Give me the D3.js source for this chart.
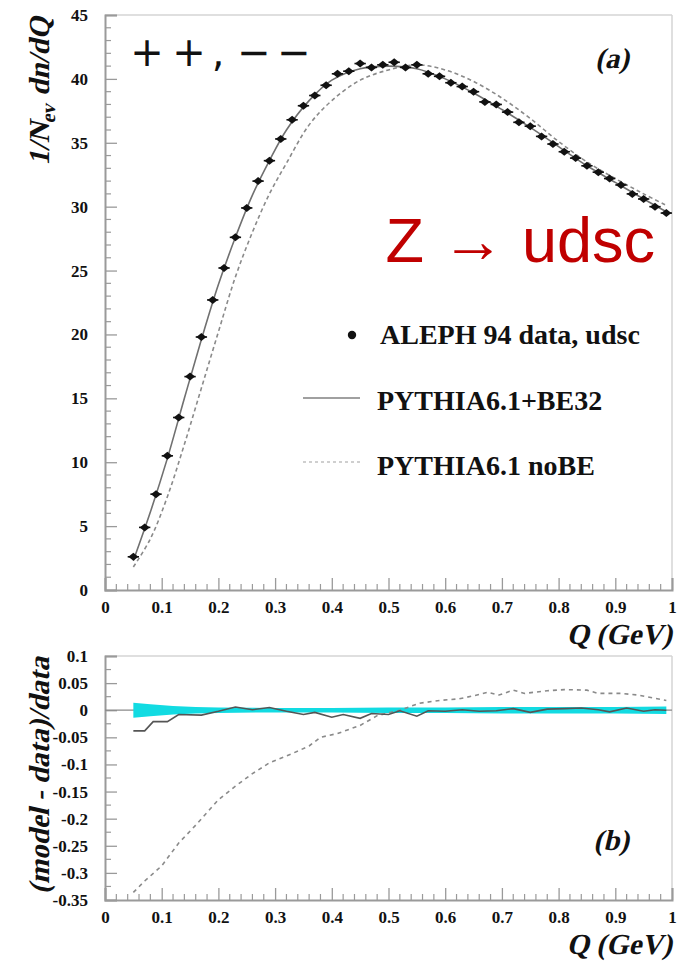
<!DOCTYPE html>
<html>
<head>
<meta charset="utf-8">
<script src="https://cdn.jsdelivr.net/npm/d3@7"></script>
<style>
  html, body { margin: 0; padding: 0; background: #ffffff; }
  svg { display: block; }
  .tick-label { font-family: "Liberation Serif", serif; font-weight: bold; font-size: 17px; fill: #111; }
  .axis-title { font-family: "Liberation Serif", serif; font-weight: bold; font-size: 29px; fill: #111; }
  .legend-text { font-family: "Liberation Serif", serif; font-weight: bold; font-size: 28px; fill: #111; }
</style>
</head>
<body>
<svg id="chart" width="680" height="962"></svg>
<script>
// Like-sign pair Q distribution, ALEPH 94 udsc data vs PYTHIA 6.1 with and without BE32

// Measured points: bin centres (GeV) and 1/N_ev dn/dQ
const dataQ = [0.05, 0.07, 0.09, 0.11, 0.13, 0.15, 0.17, 0.19, 0.21, 0.23, 0.25, 0.27,
               0.29, 0.31, 0.33, 0.35, 0.37, 0.39, 0.41, 0.43, 0.45, 0.47, 0.49, 0.51,
               0.53, 0.55, 0.57, 0.59, 0.61, 0.63, 0.65, 0.67, 0.69, 0.71, 0.73, 0.75,
               0.77, 0.79, 0.81, 0.83, 0.85, 0.87, 0.89, 0.91, 0.93, 0.95, 0.97, 0.99];
const dataVal = [2.6, 4.9, 7.5, 10.5, 13.5, 16.7, 19.8, 22.7, 25.2, 27.6, 29.9, 32.0,
                 33.6, 35.3, 36.8, 37.9, 38.7, 39.5, 40.4, 40.6, 41.2, 40.9, 41.1, 41.3,
                 40.9, 41.1, 40.4, 40.2, 39.7, 39.4, 39.0, 38.2, 38.0, 37.4, 36.6, 36.3,
                 35.5, 34.9, 34.3, 33.8, 33.2, 32.7, 32.2, 31.7, 31.0, 30.6, 30.0, 29.5];
const binHalfWidth = 0.01;

// Model curves sampled along Q
const modelQ = [0.05, 0.08, 0.11, 0.14, 0.17, 0.20, 0.23, 0.26, 0.29, 0.32, 0.36, 0.40,
                0.45, 0.50, 0.55, 0.60, 0.65, 0.70, 0.75, 0.80, 0.85, 0.90, 0.95, 0.99];
const be32Val = [2.3, 6.1, 10.3, 15.0, 19.6, 23.9, 27.6, 30.9, 33.6, 36.0, 38.3, 39.9,
                 40.8, 41.0, 40.8, 40.0, 38.9, 37.6, 36.2, 34.7, 33.2, 31.9, 30.6, 29.6];
const noBEVal = [1.8, 4.0, 7.3, 11.4, 15.8, 20.2, 24.5, 28.0, 31.0, 33.4, 36.4, 38.3,
                 39.9, 40.7, 41.1, 40.7, 39.8, 38.5, 36.9, 35.1, 33.5, 32.2, 31.0, 30.1];

// Relative deviations (model - data)/data
const ratioBE32Q = [0.05, 0.07, 0.085, 0.11, 0.13, 0.17, 0.20, 0.23, 0.26, 0.29, 0.32, 0.35,
                    0.37, 0.40, 0.42, 0.45, 0.47, 0.50, 0.52, 0.55, 0.57, 0.60, 0.63, 0.66,
                    0.69, 0.72, 0.75, 0.78, 0.81, 0.84, 0.87, 0.89, 0.92, 0.95, 0.97, 0.99];
const ratioBE32 = [-0.038, -0.038, -0.021, -0.021, -0.008, -0.009, -0.002, 0.006, 0.001, 0.005, -0.002, -0.008,
                   -0.004, -0.013, -0.008, -0.015, -0.006, -0.008, -0.001, -0.011, -0.001, -0.002, 0.001, -0.002,
                   -0.001, 0.003, -0.004, 0.002, 0.003, 0.004, 0.001, -0.003, 0.004, -0.002, 0.001, 0.0];
const ratioNoBEQ = [0.05, 0.07, 0.10, 0.13, 0.16, 0.20, 0.23, 0.26, 0.29, 0.33, 0.36, 0.38,
                    0.41, 0.45, 0.48, 0.52, 0.555, 0.59, 0.625, 0.66, 0.675, 0.695, 0.72, 0.74,
                    0.78, 0.81, 0.85, 0.87, 0.91, 0.94, 0.99];
const ratioNoBE = [-0.336, -0.315, -0.287, -0.245, -0.212, -0.165, -0.140, -0.117, -0.097, -0.080, -0.066, -0.050,
                   -0.043, -0.028, -0.010, 0.000, 0.013, 0.018, 0.021, 0.029, 0.033, 0.028, 0.037, 0.031,
                   0.036, 0.038, 0.037, 0.031, 0.031, 0.028, 0.018];

// Statistical error band of the data around zero
const bandQ = [0.05, 0.08, 0.12, 0.16, 0.20, 0.30, 0.40, 0.50, 0.60, 0.70, 0.80, 0.90, 0.99];
const bandErr = [0.014, 0.011, 0.008, 0.006, 0.005, 0.004, 0.004, 0.005, 0.005, 0.006, 0.006, 0.006, 0.007];

// Axis ticks
const xTicks = [0, 0.1, 0.2, 0.3, 0.4, 0.5, 0.6, 0.7, 0.8, 0.9, 1];
const topYTicks = [0, 5, 10, 15, 20, 25, 30, 35, 40, 45];
const botYTicks = [0.1, 0.05, 0, -0.05, -0.1, -0.15, -0.2, -0.25, -0.3, -0.35];

const legendItems = ["ALEPH 94 data, udsc", "PYTHIA6.1+BE32", "PYTHIA6.1 noBE"];

// ---------------------------------------------------------------------------
const svg = d3.select("#chart");
const X0 = 105, X1 = 672;
const topPanel = { y0: 15, y1: 590 };
const botPanel = { y0: 656, y1: 900 };
const SLANT = "skewX(-13)";   // italic lean for the serif titles

const x = d3.scaleLinear().domain([0, 1]).range([X0, X1]);
const yTop = d3.scaleLinear().domain([0, 45]).range([topPanel.y1, topPanel.y0]);
const yBot = d3.scaleLinear().domain([-0.35, 0.1]).range([botPanel.y1, botPanel.y0]);

const axisColor = "#9a9a9a";
const frameColor = "#d4d4d4";

function fmtX(d) { return d === 0 ? "0" : d === 1 ? "1" : d.toFixed(1); }

function drawFrame(y, yMajor, yMinorStep, fmtY) {
  const [ylo, yhi] = y.domain();
  const g = svg.append("g");
  // light frame top/right
  g.append("line").attr("x1", X0).attr("x2", X1).attr("y1", y(yhi)).attr("y2", y(yhi))
    .attr("stroke", frameColor).attr("stroke-width", 1.5);
  g.append("line").attr("x1", X1).attr("x2", X1).attr("y1", y(yhi)).attr("y2", y(ylo))
    .attr("stroke", frameColor).attr("stroke-width", 1.5);

  // x axis with inward ticks
  const xMinor = d3.range(0, 1.0001, 0.02).filter(v => Math.abs(v * 10 - Math.round(v * 10)) > 1e-6);
  const xAx = g.append("g").attr("transform", `translate(0,${y(ylo)})`)
    .call(d3.axisBottom(x).tickValues(xTicks).tickSize(-12).tickFormat(fmtX).tickPadding(14));
  xAx.select(".domain").attr("stroke", axisColor).attr("stroke-width", 2);
  xAx.selectAll(".tick line").attr("stroke", axisColor).attr("stroke-width", 1.3);
  xAx.selectAll(".tick text").attr("class", "tick-label").attr("dy", "0.5em");
  xAx.selectAll(".minor").data(xMinor).join("line").attr("class", "minor")
    .attr("x1", d => x(d)).attr("x2", d => x(d)).attr("y1", 0).attr("y2", -6)
    .attr("stroke", axisColor).attr("stroke-width", 1.2);

  // y axis with inward ticks
  const yMinor = d3.range(ylo, yhi + 1e-9, yMinorStep)
    .filter(v => !yMajor.some(m => Math.abs(m - v) < 1e-9));
  const yAx = g.append("g").attr("transform", `translate(${X0},0)`)
    .call(d3.axisLeft(y).tickValues(yMajor).tickSize(-12).tickFormat(fmtY).tickPadding(17));
  yAx.select(".domain").attr("stroke", axisColor).attr("stroke-width", 2);
  yAx.selectAll(".tick line").attr("stroke", axisColor).attr("stroke-width", 1.3);
  yAx.selectAll(".tick text").attr("class", "tick-label");
  yAx.selectAll(".minor").data(yMinor).join("line").attr("class", "minor")
    .attr("x1", 0).attr("x2", 6).attr("y1", d => y(d)).attr("y2", d => y(d))
    .attr("stroke", axisColor).attr("stroke-width", 1.2);
}

// slanted serif title placed at (tx, ty), optionally rotated
function title(tx, ty, rot, size, anchor) {
  const t = svg.append("text").attr("class", "axis-title")
    .attr("transform", `translate(${tx},${ty})${rot ? " rotate(" + rot + ")" : ""} ${SLANT}`)
    .attr("text-anchor", anchor || "end");
  if (size) t.attr("font-size", size);
  return t;
}

// ---------------------------- top panel ------------------------------------
drawFrame(yTop, topYTicks, 1, d => String(d));

const lineTop = d3.line().x(d => x(d[0])).y(d => yTop(d[1])).curve(d3.curveCatmullRom.alpha(0.5));

svg.append("path")
  .datum(modelQ.map((q, i) => [q, noBEVal[i]]))
  .attr("d", lineTop).attr("fill", "none")
  .attr("stroke", "#8a8a8a").attr("stroke-width", 1.6).attr("stroke-dasharray", "4,3");

svg.append("path")
  .datum(modelQ.map((q, i) => [q, be32Val[i]]))
  .attr("d", lineTop).attr("fill", "none")
  .attr("stroke", "#707070").attr("stroke-width", 1.6);

const pts = svg.append("g");
const dataPts = dataQ.map((q, i) => [q, dataVal[i]]);
pts.selectAll("line.err").data(dataPts).join("line").attr("class", "err")
  .attr("x1", d => x(d[0] - binHalfWidth)).attr("x2", d => x(d[0] + binHalfWidth))
  .attr("y1", d => yTop(d[1])).attr("y2", d => yTop(d[1]))
  .attr("stroke", "#111").attr("stroke-width", 1.6);
pts.selectAll("path.mk").data(dataPts).join("path").attr("class", "mk")
  .attr("transform", d => `translate(${x(d[0])},${yTop(d[1])})`)
  .attr("d", "M-5,0 L0,-4 L5,0 L0,4 Z")
  .attr("fill", "#111");

// Charge label
const signs = [["+", 147], ["+", 189], [",", 218], ["\u2212", 254], ["\u2212", 294]];
svg.append("g").selectAll("text").data(signs).join("text")
  .attr("x", d => d[1]).attr("y", 66)
  .attr("text-anchor", "middle")
  .attr("font-family", "DejaVu Sans, sans-serif").attr("font-size", 40)
  .attr("fill", "#111").text(d => d[0]);

title(629, 68, 0, 36).text("(a)");

svg.append("text").attr("x", 655).attr("y", 262).attr("text-anchor", "end")
  .attr("font-family", "Liberation Sans, Arial, sans-serif").attr("font-size", 63)
  .attr("fill", "#c00000").text("Z \u2192 udsc");

// Legend
const lg = svg.append("g");
lg.append("circle").attr("cx", 352).attr("cy", 335).attr("r", 4.2).attr("fill", "#111");
lg.append("line").attr("x1", 303).attr("x2", 360).attr("y1", 398).attr("y2", 398)
  .attr("stroke", "#808080").attr("stroke-width", 1.4);
lg.append("line").attr("x1", 303).attr("x2", 360).attr("y1", 462).attr("y2", 462)
  .attr("stroke", "#a0a0a0").attr("stroke-width", 1.2).attr("stroke-dasharray", "3,3");
lg.selectAll("text").data(legendItems).join("text").attr("class", "legend-text")
  .attr("x", (d, i) => i === 0 ? 380 : 377)
  .attr("y", (d, i) => [344, 410, 475][i]).text(d => d);

// Axis titles (top panel)
const yTitle = title(49, 17, -90);
yTitle.append("tspan").text("1/N");
yTitle.append("tspan").attr("font-size", 20).attr("dy", 6).text("ev");
yTitle.append("tspan").attr("dy", -6).text(" dn/dQ");

title(672, 644).text("Q (GeV)");

// ---------------------------- bottom panel ---------------------------------
drawFrame(yBot, botYTicks, 0.025, d => (Math.abs(d) < 1e-9 ? "0" : String(+d.toFixed(2))));

// zero reference
svg.append("line").attr("x1", X0).attr("x2", X1).attr("y1", yBot(0)).attr("y2", yBot(0))
  .attr("stroke", "#8a8a8a").attr("stroke-width", 1.2);

// error band
svg.append("path")
  .datum(bandQ.map((q, i) => [q, bandErr[i]]))
  .attr("d", d3.area().x(d => x(d[0])).y0(d => yBot(-d[1])).y1(d => yBot(d[1])))
  .attr("fill", "#12dbe2");

const lineBot = d3.line().x(d => x(d[0])).y(d => yBot(d[1]));

svg.append("path")
  .datum(ratioNoBEQ.map((q, i) => [q, ratioNoBE[i]]))
  .attr("d", lineBot).attr("fill", "none")
  .attr("stroke", "#8a8a8a").attr("stroke-width", 1.6).attr("stroke-dasharray", "4,4");

svg.append("path")
  .datum(ratioBE32Q.map((q, i) => [q, ratioBE32[i]]))
  .attr("d", lineBot).attr("fill", "none")
  .attr("stroke", "#555").attr("stroke-width", 1.6);

title(629, 850, 0, 36).text("(b)");
title(49, 657, -90).text("(model - data)/data");
title(672, 954).text("Q (GeV)");
</script>
</body>
</html>
